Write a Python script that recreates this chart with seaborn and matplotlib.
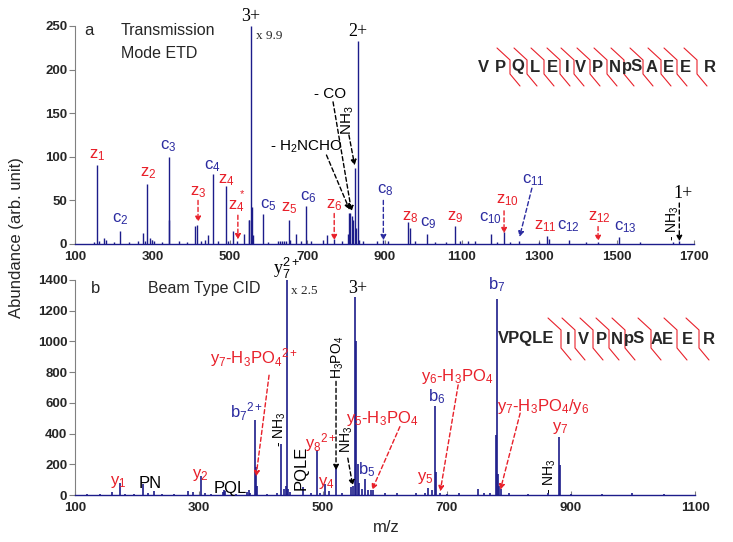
import numpy as np
import seaborn as sns
import matplotlib.pyplot as plt

# ---- datos: espectro ETD (panel a) ----
mz_etd = [148, 158, 163, 175, 180, 200, 216, 240, 262, 275, 280, 287, 295, 300, 305, 325,
          342, 344, 370, 390, 410, 415, 425, 435, 443, 456, 470, 490, 496, 508, 518, 537,
          549, 551, 554, 557, 560, 586, 600, 625, 630, 635, 640, 645, 653, 657, 670, 685,
          698, 710, 742, 752, 770, 790, 805, 809, 812, 815, 818, 823, 826, 831, 835, 845,
          880, 897, 910, 962, 965, 980, 1009, 1030, 1060, 1083, 1095, 1115, 1135, 1176,
          1190, 1209, 1225, 1248, 1300, 1321, 1324, 1376, 1420, 1451, 1505, 1560, 1646, 1662]
ab_etd = [2, 91, 3, 7, 5, 2, 15, 2, 3, 13, 4, 69, 7, 5, 3, 2,
          100, 27, 4, 2, 21, 22, 3, 5, 10, 80, 3, 66, 3, 15, 4, 11,
          27, 28, 250, 42, 10, 34, 2, 4, 3, 3, 3, 3, 28, 5, 12, 3,
          44, 3, 5, 10, 6, 3, 12, 35, 36, 32, 28, 87, 18, 233, 5, 3,
          3, 5, 3, 25, 18, 3, 11, 2, 2, 21, 4, 4, 3, 12,
          2, 14, 2, 3, 2, 9, 6, 5, 2, 2, 8, 2, 2, 3]

# ---- datos: espectro CID (panel b) ----
mz_cid = [120, 140, 160, 173, 180, 195, 210, 218, 228, 240, 260, 282, 290, 304, 310, 320,
          338, 340, 342, 360, 378, 380, 383, 390, 392, 394, 410, 425, 433, 437, 440, 441.5,
          444, 447, 468, 480, 490.5, 495, 503, 510, 521, 530, 545, 548, 552, 554, 556, 558,
          563, 567, 572, 577, 580, 600, 620, 650, 664, 670, 675, 681, 683, 689, 700, 720,
          750, 760, 770, 779, 780.5, 782, 784, 787, 800, 830, 863, 881, 883, 900, 950, 998, 1050]
ab_cid = [5, 5, 20, 75, 8, 8, 70, 10, 25, 8, 5, 25, 20, 125, 10, 5,
          20, 35, 25, 5, 20, 30, 15, 490, 180, 60, 8, 10, 330, 40, 60, 1400,
          40, 20, 55, 10, 290, 15, 70, 25, 180, 15, 50, 60, 1290, 1000, 200, 80,
          40, 105, 30, 35, 30, 10, 10, 15, 15, 45, 30, 580, 150, 15, 8, 10,
          37, 10, 15, 390, 1276, 140, 60, 40, 10, 8, 10, 375, 196, 8, 5, 15, 5]

seq_a = ["V", "P", "Q", "L", "E", "I", "V", "P", "N", "pS", "A", "E", "E", "R"]
seq_b = ["VPQLE", "I", "V", "P", "N", "pS", "AE", "E", "R"]

navy = "#1c1c8a"
blue = "#2b2ba0"
red = "#e8202a"

sns.set_style("white")
plt.rcParams['font.family'] = ['Liberation Sans', 'DejaVu Sans']
plt.rcParams['mathtext.fontset'] = 'custom'
plt.rcParams['mathtext.rm'] = 'Liberation Sans'
plt.rcParams['mathtext.it'] = 'Liberation Sans:italic'
plt.rcParams['mathtext.bf'] = 'Liberation Sans:bold'

fig = plt.figure(figsize=(7.33, 5.42), dpi=100)
W, H = 733.0, 542.0
ax1 = fig.add_axes([75 / W, (H - 244) / H, 619 / W, 218 / H])
ax2 = fig.add_axes([75 / W, (H - 495) / H, 620 / W, 215 / H])

ax1.vlines(mz_etd, 0, ab_etd, color=navy, lw=1.0)
ax2.vlines(mz_cid, 0, ab_cid, color=navy, lw=1.2)


def lab(ax, x, y, s, c, size=12, **kw):
    ax.text(x, y, s, color=c, fontsize=size, ha='center', va='center', clip_on=False, **kw)


def arr(ax, x0, y0, x1, y1, c):
    ax.annotate('', xy=(x1, y1), xytext=(x0, y0),
                arrowprops=dict(arrowstyle='-|>', color=c, lw=1, ls=(0, (3, 2)),
                                shrinkA=0, shrinkB=0, mutation_scale=8))


serif = ['Liberation Serif', 'DejaVu Serif']

# ---- panel a ----
ax1.text(125, 245, "a", fontsize=12, va='center')
ax1.text(218, 245, "Transmission", fontsize=11.5, va='center')
ax1.text(218, 219, "Mode ETD", fontsize=11.5, va='center')
lab(ax1, 158, 102, "z$_1$", red)
lab(ax1, 216, 28, "c$_2$", blue)
lab(ax1, 290, 81, "z$_2$", red)
lab(ax1, 342, 112, "c$_3$", blue)
lab(ax1, 418, 60, "z$_3$", red)
arr(ax1, 418, 50, 418, 25, red)
lab(ax1, 456, 89, "c$_4$", blue)
lab(ax1, 490, 73, "z$_4$", red)
lab(ax1, 518, 43, "z$_4$", red)
ax1.text(531, 57, "*", color=red, fontsize=8, ha='center', va='center')
arr(ax1, 521, 33, 521, 5, red)
lab(ax1, 553, 261, "3+", 'black', size=13, family=serif)
ax1.text(568, 239, "x 9.9", fontsize=9.5, family=serif, va='center')
lab(ax1, 600, 45, "c$_5$", blue)
lab(ax1, 655, 41, "z$_5$", red)
lab(ax1, 702, 54, "c$_6$", blue)
lab(ax1, 769, 45, "z$_6$", red)
arr(ax1, 770, 35, 770, 4, red)
lab(ax1, 831, 244, "2+", 'black', size=13, family=serif)
lab(ax1, 759, 172, "- CO", 'black', size=11)
arr(ax1, 767, 163, 815, 37, 'black')
lab(ax1, 805, 142, "NH$_3$", 'black', size=11, rotation=90)
arr(ax1, 808, 125, 823, 90, 'black')
lab(ax1, 698, 112, "- H$_2$NCHO", 'black', size=11)
arr(ax1, 750, 102, 810, 39, 'black')
lab(ax1, 901, 62, "c$_8$", blue)
arr(ax1, 897, 50, 897, 4, blue)
lab(ax1, 966, 31, "z$_8$", red)
lab(ax1, 1013, 24, "c$_9$", blue)
lab(ax1, 1083, 31, "z$_9$", red)
lab(ax1, 1173, 30, "c$_{10}$", blue)
lab(ax1, 1217, 50, "z$_{10}$", red)
arr(ax1, 1209, 38, 1209, 12, red)
lab(ax1, 1285, 73, "c$_{11}$", blue)
arr(ax1, 1281, 64, 1249, 8, blue)
lab(ax1, 1316, 20, "z$_{11}$", red)
lab(ax1, 1376, 20, "c$_{12}$", blue)
lab(ax1, 1456, 31, "z$_{12}$", red)
arr(ax1, 1452, 20, 1452, 3, red)
lab(ax1, 1523, 19, "c$_{13}$", blue)
lab(ax1, 1671, 58, "1+", 'black', size=13, family=serif)
lab(ax1, 1646, 24, "- NH$_3$", 'black', size=10, rotation=90)
arr(ax1, 1662, 47, 1662, 3, 'black')

# ---- panel b ----
ax2.text(125, 1345, "b", fontsize=12, va='center')
ax2.text(218, 1345, "Beam Type CID", fontsize=11.5, va='center')
lab(ax2, 441, 1478, "y$_7^{2+}$", 'black', size=13, family=serif)
ax2.text(449, 1330, "x 2.5", fontsize=9.5, family=serif, va='center')
lab(ax2, 556, 1345, "3+", 'black', size=13, family=serif)
lab(ax2, 780, 1370, "b$_7$", blue)
lab(ax2, 389, 898, "y$_7$-H$_3$PO$_4$$^{2+}$", red)
arr(ax2, 413, 780, 392, 120, red)
lab(ax2, 377, 542, "b$_7$$^{2+}$", blue)
lab(ax2, 431, 430, "- NH$_3$", 'black', size=10, rotation=90)
lab(ax2, 464, 174, "PQLE", 'black', size=12, rotation=90)
lab(ax2, 497, 341, "y$_8$$^{2+}$", red)
lab(ax2, 506, 80, "y$_4$", red)
lab(ax2, 524, 898, "H$_3$PO$_4$", 'black', size=10, rotation=90)
arr(ax2, 521, 740, 521, 160, 'black')
lab(ax2, 539, 363, "NH$_3$", 'black', size=10, rotation=90)
arr(ax2, 540, 240, 548, 60, 'black')
lab(ax2, 170, 85, "y$_1$", red)
lab(ax2, 221, 76, "PN", 'black')
lab(ax2, 302, 129, "y$_2$", red)
lab(ax2, 350, 45, "PQL", 'black')
lab(ax2, 570, 163, "b$_5$", blue)
lab(ax2, 595, 501, "y$_5$-H$_3$PO$_4$", red)
arr(ax2, 624, 445, 579, 33, red)
lab(ax2, 683, 641, "b$_6$", blue)
lab(ax2, 716, 772, "y$_6$-H$_3$PO$_4$", red)
arr(ax2, 718, 717, 689, 22, red)
lab(ax2, 665, 109, "y$_5$", red)
lab(ax2, 855, 576, "y$_7$-H$_3$PO$_4$/y$_6$", red)
arr(ax2, 818, 533, 786, 33, red)
lab(ax2, 882, 435, "y$_7$", red)
lab(ax2, 866, 120, "- NH$_3$", 'black', size=10, rotation=90)


# ---- secuencias con marcas de fragmentacion ----
def secuencia(letras, xs, y, marks, top, vtop, vbot, bot):
    for letra, x in zip(letras, xs):
        fig.text(x / W, 1 - y / H, letra, fontsize=12, fontweight='bold',
                 ha='center', va='center')
    for m in marks:
        px = [m - 13, m, m, m + 10]
        py = [top, vtop, vbot, bot]
        fig.add_artist(plt.Line2D([p / W for p in px], [1 - q / H for q in py],
                                  color=red, lw=0.8))


secuencia(seq_a, [483, 500, 518, 535, 552, 567, 580, 597, 615, 633, 652, 668, 685, 710], 67,
          [510, 527, 544, 560, 574, 590, 607, 624, 643, 661, 677, 697], 48, 60, 74, 86)
secuencia(seq_b, [526, 568, 583, 601, 617, 635, 662, 687, 709], 339,
          [561, 575, 593, 609, 625, 651, 677, 699], 318, 330, 348, 360)

# ---- ejes ----
for ax, xmax, ymax, ystep in [(ax1, 1700, 250, 50), (ax2, 1100, 1400, 200)]:
    sns.despine(ax=ax)
    ax.set_xlim(100, xmax)
    ax.set_ylim(0, ymax)
    ax.set_xticks(np.arange(100, xmax + 1, 200))
    ax.set_yticks(np.arange(0, ymax + 1, ystep))
    ax.spines['left'].set_color('#808080')
    ax.spines['left'].set_linewidth(0.8)
    ax.spines['bottom'].set_color(navy)
    ax.spines['bottom'].set_linewidth(1.0)
    ax.tick_params(axis='y', direction='out', length=4, width=0.8, color='#808080',
                   pad=1.5, labelsize=9.5, left=True)
    ax.tick_params(axis='x', direction='in', length=3, width=0.8, color='#808080',
                   pad=5, labelsize=9.5, bottom=True)
    for t in ax.get_xticklabels() + ax.get_yticklabels():
        t.set_fontweight('bold')

fig.text(0.023, 0.561, "Abundance (arb. unit)", rotation=90, fontsize=12,
         ha='center', va='center')
fig.text(386 / W, 1 - 528 / H, "m/z", fontsize=12, ha='center', va='center')

fig.savefig("out.png", dpi=100)
